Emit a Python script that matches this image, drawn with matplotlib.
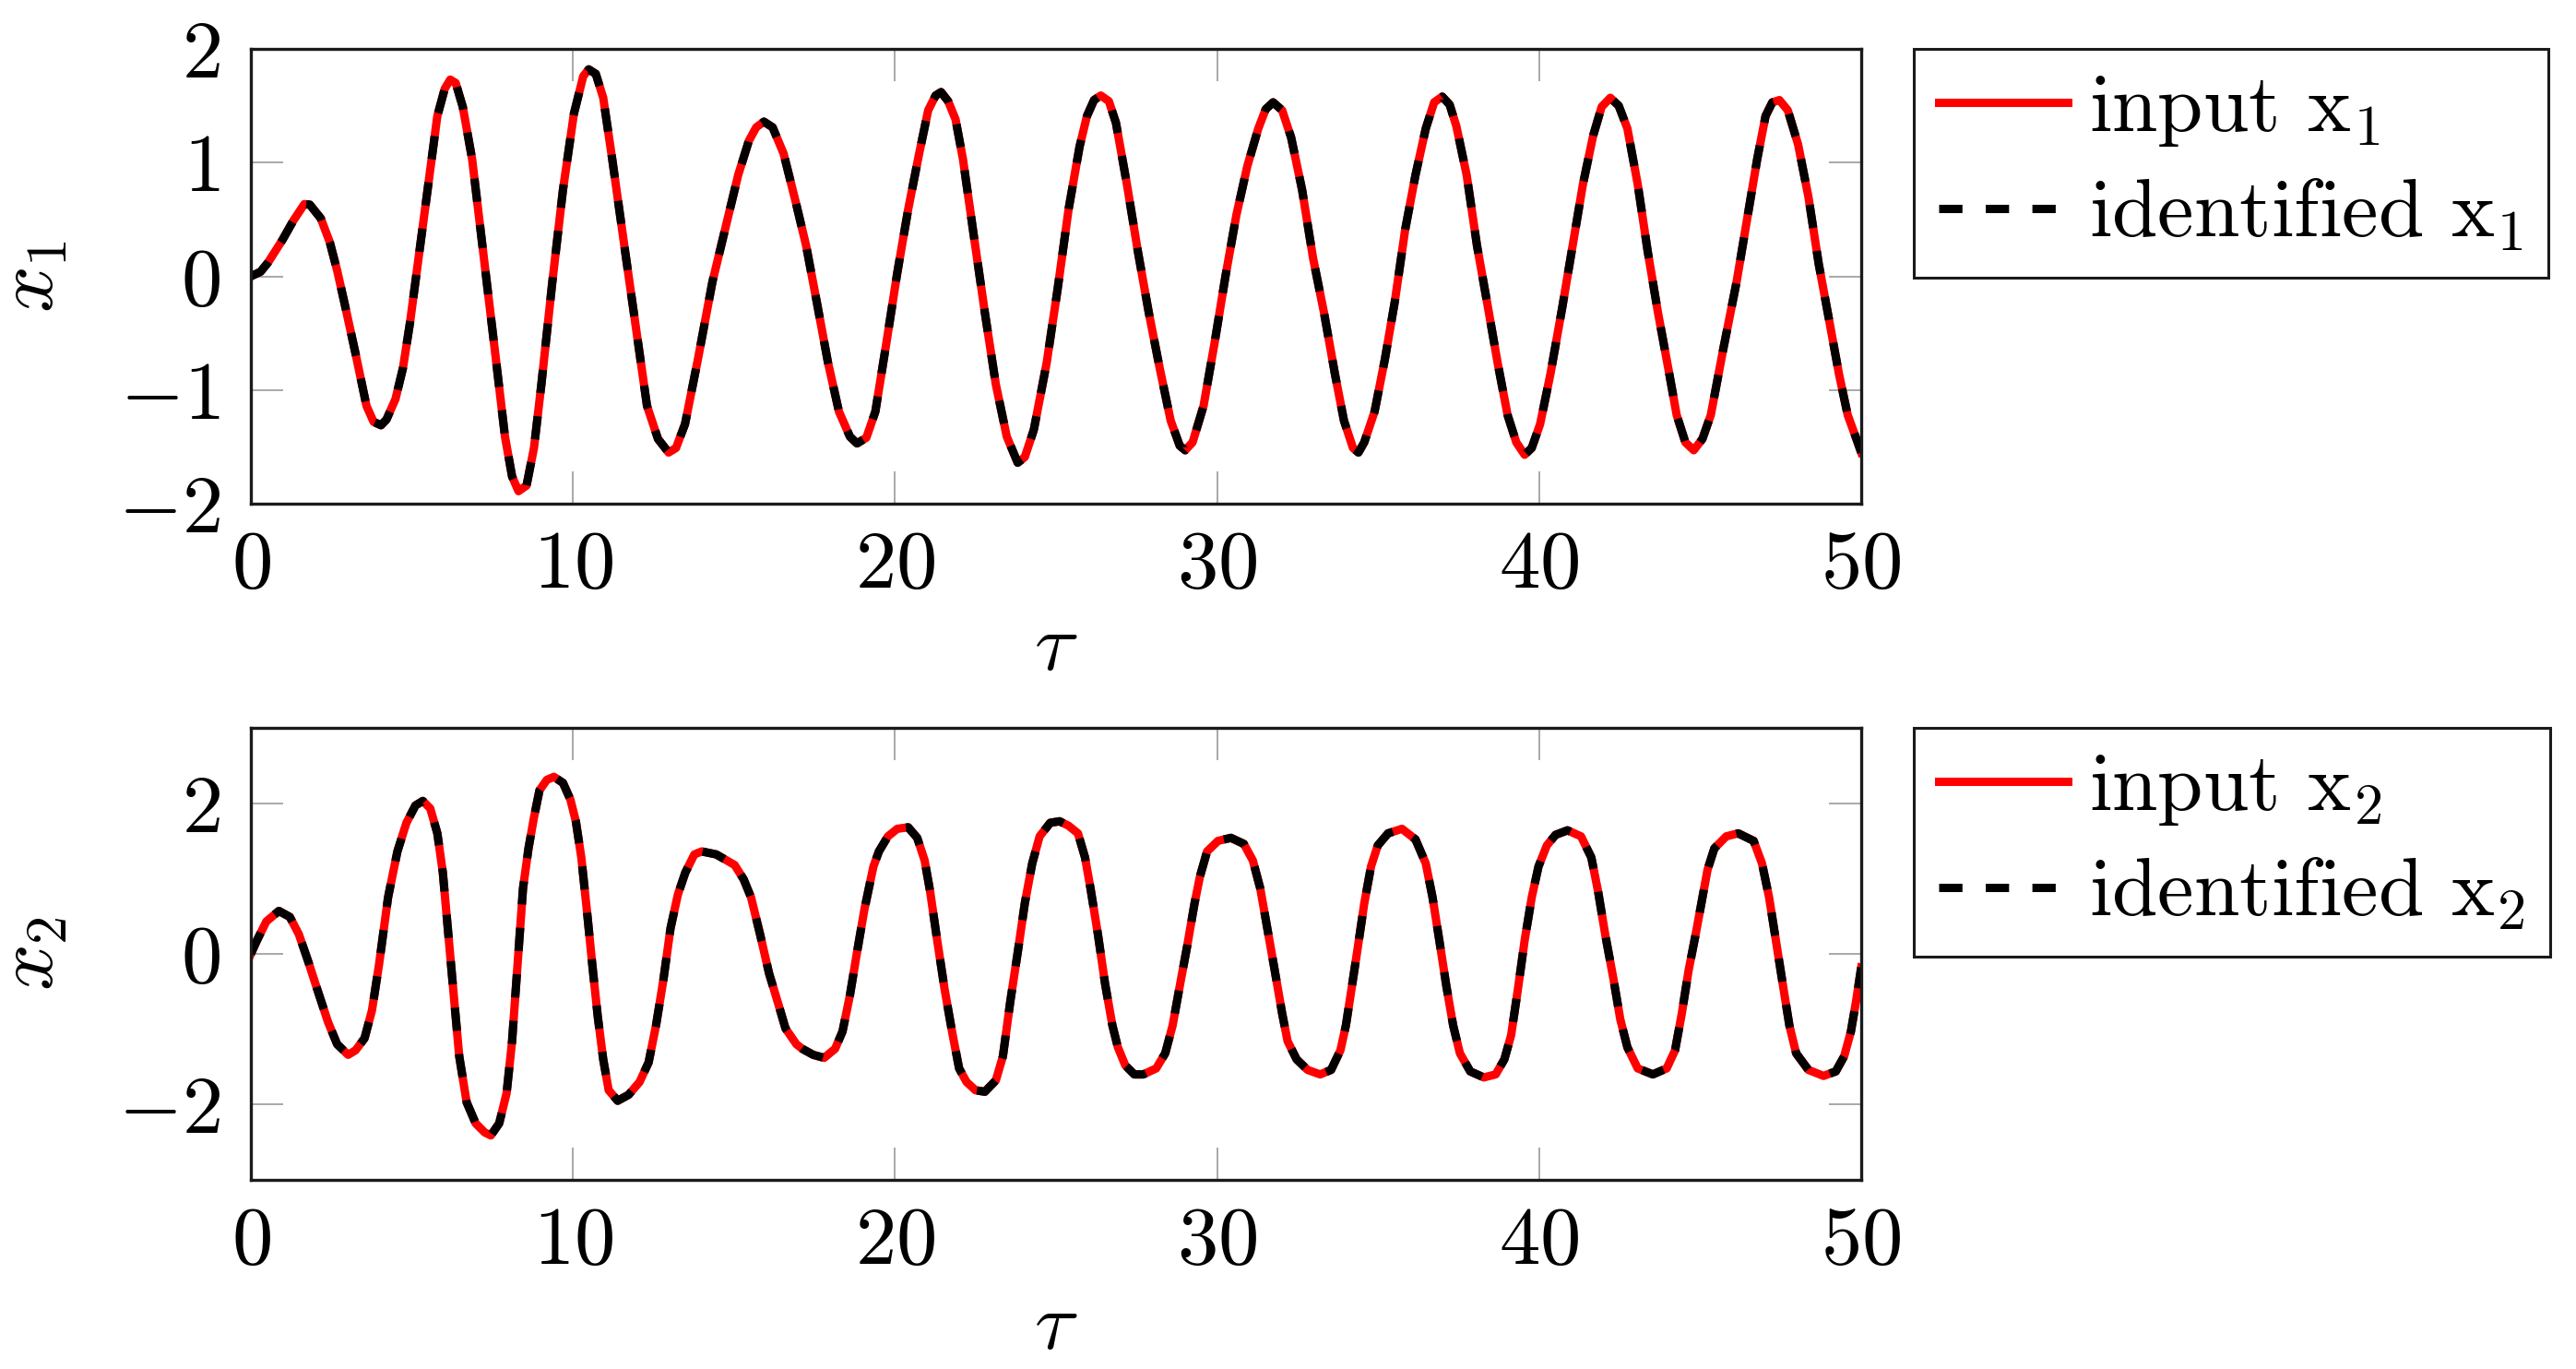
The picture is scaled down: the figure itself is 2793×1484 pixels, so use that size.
import matplotlib
matplotlib.use("Agg")
import matplotlib.pyplot as plt

plt.rcParams["font.family"] = "serif"
plt.rcParams["font.serif"] = ["cmr10"]
plt.rcParams["mathtext.fontset"] = "cm"
plt.rcParams["axes.unicode_minus"] = True

# ---- data (tau, value)
tau1 = [0, 0.3, 0.53, 0.98, 1.32, 1.66, 1.83, 2.17, 2.45, 2.68, 2.91, 3.25, 3.59, 3.81, 4.04, 4.21,
        4.49, 4.72, 4.94, 5.17, 5.51, 5.79, 6.02, 6.19, 6.36, 6.58, 6.87, 7.21, 7.55, 7.89, 8.11,
        8.31, 8.56, 8.79, 9.02, 9.36, 9.69, 10.03, 10.32, 10.49, 10.71, 10.94, 11.22, 11.62, 11.96,
        12.30, 12.64, 12.97, 13.20, 13.48, 13.88, 14.33, 14.79, 15.13, 15.46, 15.69, 15.93, 16.20,
        16.54, 16.92, 17.24, 17.58, 17.92, 18.26, 18.60, 18.82, 19.11, 19.39, 19.73, 20.07, 20.41,
        20.75, 21.03, 21.26, 21.43, 21.65, 21.88, 22.11, 22.45, 22.79, 23.13, 23.47, 23.81, 24.03,
        24.31, 24.71, 25.05, 25.39, 25.73, 25.96, 26.18, 26.39, 26.64, 26.86, 27.20, 27.54, 27.88,
        28.22, 28.56, 28.84, 29.01, 29.24, 29.58, 29.92, 30.26, 30.60, 30.94, 31.28, 31.51, 31.74,
        32.02, 32.30, 32.64, 32.98, 33.32, 33.66, 33.94, 34.22, 34.39, 34.57, 34.89, 35.21, 35.52,
        35.84, 36.16, 36.48, 36.74, 36.99, 37.22, 37.43, 37.75, 38.07, 38.39, 38.71, 39.02, 39.29,
        39.55, 39.77, 40.03, 40.35, 40.72, 41.04, 41.36, 41.68, 41.94, 42.21, 42.47, 42.74, 43.06,
        43.37, 43.69, 44.01, 44.27, 44.54, 44.80, 45.07, 45.33, 45.71, 46.13, 46.45, 46.77, 47.03,
        47.24, 47.46, 47.72, 48.04, 48.36, 48.68, 49.00, 49.31, 49.58, 49.85, 50.0]
x1_input = [0, 0.04, 0.12, 0.32, 0.49, 0.635, 0.63, 0.51, 0.30, 0.05, -0.24, -0.68, -1.14, -1.28,
            -1.31, -1.26, -1.08, -0.81, -0.41, 0.08, 0.81, 1.41, 1.65, 1.73, 1.70, 1.49, 1.03, 0.22,
            -0.59, -1.41, -1.76, -1.89, -1.84, -1.51, -0.95, -0.05, 0.76, 1.43, 1.76, 1.82, 1.78,
            1.57, 1.03, 0.22, -0.46, -1.14, -1.43, -1.55, -1.51, -1.30, -0.73, -0.05, 0.49, 0.89,
            1.19, 1.31, 1.36, 1.31, 1.08, 0.65, 0.27, -0.24, -0.76, -1.19, -1.41, -1.47, -1.42,
            -1.19, -0.59, 0.03, 0.59, 1.08, 1.46, 1.59, 1.62, 1.54, 1.38, 1.03, 0.35, -0.32, -0.95,
            -1.41, -1.64, -1.59, -1.35, -0.76, -0.11, 0.59, 1.14, 1.41, 1.55, 1.59, 1.54, 1.35, 0.81,
            0.22, -0.32, -0.81, -1.27, -1.49, -1.53, -1.46, -1.14, -0.59, 0.00, 0.54, 0.97, 1.30,
            1.47, 1.53, 1.46, 1.22, 0.76, 0.16, -0.32, -0.86, -1.27, -1.51, -1.55, -1.46, -1.19,
            -0.73, -0.22, 0.41, 0.89, 1.30, 1.53, 1.58, 1.51, 1.32, 0.89, 0.27, -0.24, -0.76, -1.22,
            -1.46, -1.57, -1.51, -1.30, -0.86, -0.27, 0.27, 0.81, 1.24, 1.49, 1.57, 1.50, 1.30, 0.81,
            0.22, -0.32, -0.81, -1.22, -1.46, -1.53, -1.43, -1.22, -0.65, -0.05, 0.49, 1.03, 1.41,
            1.53, 1.55, 1.46, 1.16, 0.70, 0.11, -0.38, -0.86, -1.22, -1.43, -1.55]
x1_identified = list(x1_input)

tau2 = [0, 0.19, 0.48, 0.87, 1.21, 1.49, 1.78, 2.06, 2.40, 2.68, 3.02, 3.25, 3.53, 3.76, 3.98, 4.26,
        4.55, 4.83, 5.11, 5.34, 5.57, 5.79, 5.96, 6.13, 6.30, 6.47, 6.70, 6.98, 7.26, 7.45, 7.71,
        7.94, 8.11, 8.28, 8.45, 8.62, 8.79, 8.96, 9.19, 9.41, 9.69, 9.92, 10.09, 10.26, 10.43, 10.60,
        10.77, 10.94, 11.11, 11.39, 11.73, 12.07, 12.35, 12.58, 12.81, 13.03, 13.26, 13.49, 13.77,
        14.00, 14.45, 15.02, 15.30, 15.53, 15.81, 16.09, 16.38, 16.60, 16.94, 17.12, 17.46, 17.80,
        18.14, 18.37, 18.60, 18.82, 19.05, 19.33, 19.50, 19.78, 20.07, 20.41, 20.69, 20.92, 21.09,
        21.31, 21.54, 21.77, 21.99, 22.22, 22.50, 22.79, 23.13, 23.35, 23.58, 23.81, 24.03, 24.26,
        24.49, 24.82, 25.11, 25.39, 25.68, 25.90, 26.07, 26.30, 26.52, 26.75, 26.92, 27.15, 27.43,
        27.71, 28.11, 28.39, 28.62, 28.84, 29.07, 29.30, 29.47, 29.69, 30.03, 30.43, 30.83, 31.11,
        31.34, 31.56, 31.79, 32.02, 32.19, 32.47, 32.81, 33.20, 33.54, 33.83, 34.00, 34.18, 34.36,
        34.57, 34.78, 34.99, 35.31, 35.74, 36.16, 36.48, 36.69, 36.90, 37.12, 37.33, 37.54, 37.86,
        38.28, 38.65, 38.92, 39.13, 39.34, 39.55, 39.77, 39.98, 40.24, 40.51, 40.88, 41.30, 41.62,
        41.83, 42.05, 42.31, 42.52, 42.74, 43.06, 43.53, 43.96, 44.22, 44.43, 44.64, 44.86, 45.07,
        45.23, 45.44, 45.81, 46.18, 46.66, 46.92, 47.14, 47.35, 47.56, 47.77, 47.98, 48.36, 48.83,
        49.21, 49.47, 49.68, 49.84, 50.0]
x2_input = [0, 0.18, 0.43, 0.57, 0.49, 0.26, -0.10, -0.47, -0.91, -1.20, -1.34, -1.28, -1.12, -0.75,
            -0.14, 0.75, 1.36, 1.74, 1.97, 2.03, 1.93, 1.60, 1.08, 0.26, -0.55, -1.36, -1.97, -2.25,
            -2.37, -2.41, -2.25, -1.85, -1.16, -0.14, 0.87, 1.40, 1.81, 2.17, 2.31, 2.35, 2.27, 2.05,
            1.76, 1.28, 0.59, -0.14, -0.83, -1.40, -1.81, -1.95, -1.87, -1.70, -1.44, -0.95, -0.34,
            0.34, 0.79, 1.08, 1.32, 1.36, 1.32, 1.18, 0.99, 0.75, 0.26, -0.26, -0.67, -0.99, -1.20,
            -1.26, -1.34, -1.38, -1.26, -1.03, -0.55, 0.02, 0.59, 1.16, 1.36, 1.56, 1.66, 1.68, 1.54,
            1.24, 0.83, 0.18, -0.47, -1.03, -1.52, -1.70, -1.81, -1.83, -1.68, -1.36, -0.63, 0.02,
            0.67, 1.20, 1.56, 1.74, 1.76, 1.70, 1.60, 1.28, 0.87, 0.26, -0.39, -0.95, -1.24, -1.48,
            -1.60, -1.60, -1.52, -1.32, -0.95, -0.43, 0.10, 0.67, 1.03, 1.36, 1.50, 1.54, 1.46, 1.24,
            0.87, 0.34, -0.22, -0.79, -1.16, -1.40, -1.54, -1.60, -1.54, -1.28, -0.95, -0.45, 0.06,
            0.67, 1.16, 1.44, 1.60, 1.66, 1.52, 1.20, 0.75, 0.18, -0.43, -0.95, -1.32, -1.56, -1.64,
            -1.60, -1.40, -1.08, -0.47, 0.18, 0.75, 1.16, 1.44, 1.58, 1.64, 1.56, 1.28, 0.83, 0.26,
            -0.34, -0.87, -1.24, -1.52, -1.60, -1.52, -1.28, -0.79, -0.22, 0.26, 0.75, 1.12, 1.40,
            1.56, 1.60, 1.50, 1.20, 0.75, 0.18, -0.39, -0.95, -1.32, -1.54, -1.62, -1.56, -1.36,
            -1.03, -0.63, -0.18]
x2_identified = list(x2_input)

xticks = [0, 10, 20, 30, 40, 50]
yticks1 = [-2, -1, 0, 1, 2]
yticks2 = [-2, 0, 2]

W, H = 2793, 1484
fig = plt.figure(figsize=(W / 100, H / 100), dpi=100)
FS = 64

panels = [
    # (left, top, right, bottom) in pixels, xlabel top in pixels, data, ylim, yticks, index
    ((272, 53, 2018, 546), 664, tau1, x1_input, x1_identified, (-2, 2), yticks1, "1"),
    ((272, 789, 2018, 1279), 1400, tau2, x2_input, x2_identified, (-3, 3), yticks2, "2"),
]

for (l, t, r, b), xl_top, tau, xin, xid, ylim, yt, k in panels:
    ax = fig.add_axes([l / W, 1 - b / H, (r - l) / W, (b - t) / H])
    ax.plot(tau, xin, color="#ff0000", lw=6.5, label=r"input $\mathrm{x}_%s$" % k,
            solid_joinstyle="round")
    ax.plot(tau, xid, color="black", lw=6.5, dashes=(2.8, 2.8),
            label=r"identified $\mathrm{x}_%s$" % k)
    ax.set_xlim(0, 50)
    ax.set_ylim(*ylim)
    ax.set_xticks(xticks, labels=["$%d$" % v for v in xticks])
    ax.set_yticks(yt, labels=["$%d$" % v for v in yt])
    ax.tick_params(direction="in", length=25, width=1.2, color="#999999",
                   top=True, right=True, labelsize=FS)
    ax.tick_params(axis="x", pad=21)
    ax.tick_params(axis="y", pad=24)
    for s in ax.spines.values():
        s.set_linewidth(2.4)
        s.set_color("#1a1a1a")
    ax.set_xlabel(r"$\tau$", fontsize=FS)
    ax.set_ylabel(r"$x_%s$" % k, fontsize=FS)
    ax.xaxis.set_label_coords(0.5, -(xl_top - b) / (b - t))
    ax.yaxis.set_label_coords((75 - l) / (r - l), 0.5)
    leg = ax.legend(loc="upper left", bbox_to_anchor=(2075 / W, 1 - t / H),
                    bbox_transform=fig.transFigure, borderaxespad=0, fontsize=FS,
                    frameon=True, fancybox=False, framealpha=1, edgecolor="#1a1a1a",
                    handlelength=1.58, handletextpad=0.26, borderpad=0.3,
                    labelspacing=0.35)
    leg.get_frame().set_linewidth(2.2)

fig.savefig("out.png", dpi=100)
